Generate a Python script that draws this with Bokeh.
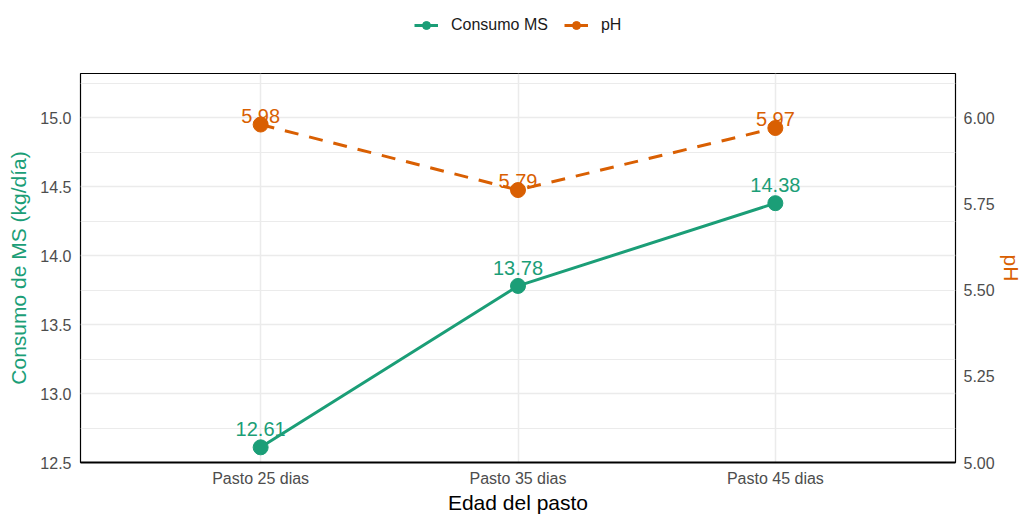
from bokeh.plotting import figure
from bokeh.layouts import column
from bokeh.models import (ColumnDataSource, FactorRange, Range1d, LinearAxis, FixedTicker,
                          Legend, LegendItem)
from bokeh.core.properties import value
from bokeh.embed import file_html
from bokeh.resources import INLINE

categories = ["Pasto 25 dias", "Pasto 35 dias", "Pasto 45 dias"]
consumo_ms = [12.61, 13.78, 14.38]
ph = [5.98, 5.79, 5.97]
left_ticks = [12.5, 13.0, 13.5, 14.0, 14.5, 15.0]
right_ticks = [5.00, 5.25, 5.50, 5.75, 6.00]
series_names = ["Consumo MS", "pH"]

GREEN = "#1B9E77"
ORANGE = "#D95F02"
FONT = "Liberation Sans"

src = ColumnDataSource(dict(
    x=categories, ms=consumo_ms, ph=ph,
    ms_lab=[f"{v:.2f}" for v in consumo_ms],
    ph_lab=[f"{v:.2f}" for v in ph],
))

y0, y1 = 12.5, 15.32
p = figure(frame_width=875, frame_height=389, output_backend="svg", toolbar_location=None,
           x_range=FactorRange(factors=categories, range_padding=0.2, range_padding_units="absolute"),
           y_range=Range1d(y0, y1),
           min_border_left=80, min_border_right=66, min_border_top=23, min_border_bottom=51)
p.extra_y_ranges = {"ph": Range1d(5 + (y0 - 12.5) / 2.5, 5 + (y1 - 12.5) / 2.5)}

p.background_fill_color = "white"
p.border_fill_color = "white"
p.outline_line_color = "black"
p.outline_line_width = 1.2

# grids
p.xgrid.grid_line_color = "#EBEBEB"
p.xgrid.grid_line_width = 1.5
p.ygrid.grid_line_color = "#EBEBEB"
p.ygrid.grid_line_width = 1.5
p.ygrid.minor_grid_line_color = "#EBEBEB"
p.ygrid.minor_grid_line_width = 1

yl = p.yaxis[0]
xb = p.xaxis[0]
yl.ticker = FixedTicker(ticks=left_ticks, minor_ticks=[12.75, 13.25, 13.75, 14.25, 14.75, 15.25])
yl.major_label_overrides = {t: f"{t:.1f}" for t in left_ticks}

# lines & points
l1 = p.line("x", "ms", source=src, line_color=GREEN, line_width=3)
s1 = p.scatter("x", "ms", source=src, size=15, fill_color=GREEN, line_color=GREEN)
l2 = p.line("x", "ph", source=src, line_color=ORANGE, line_width=3, line_dash="14 11", y_range_name="ph")
s2 = p.scatter("x", "ph", source=src, size=15, fill_color=ORANGE, line_color=ORANGE, y_range_name="ph")

p.text("x", "ms", text="ms_lab", source=src, text_color=GREEN, text_font_size="20px",
       text_font=value(FONT), text_align="center", text_baseline="bottom", y_offset=-11)
p.text("x", "ph", text="ph_lab", source=src, text_color=ORANGE, text_font_size="20px",
       text_font=value(FONT), text_align="center", text_baseline="bottom", y_offset=-2, y_range_name="ph")

ax2 = LinearAxis(y_range_name="ph", axis_label="pH", ticker=FixedTicker(ticks=right_ticks),
                 major_label_overrides={t: f"{t:.2f}" for t in right_ticks})
p.add_layout(ax2, "right")

# axes styling
for ax in [xb, yl, ax2]:
    ax.major_tick_line_color = None
    ax.minor_tick_line_color = None
    ax.major_tick_out = 0
    ax.major_tick_in = 0
    ax.minor_tick_out = 0
    ax.minor_tick_in = 0
    ax.major_label_text_color = "#4D4D4D"
    ax.major_label_text_font = FONT
    ax.major_label_text_font_size = "16px"
    ax.axis_label_text_font = FONT
    ax.axis_label_text_font_style = "normal"
    ax.axis_label_text_font_size = "21px"

xb.axis_label = "Edad del pasto"
xb.axis_label_text_color = "black"
xb.axis_line_color = "black"
xb.axis_line_width = 2
xb.major_label_standoff = 7
xb.axis_label_standoff = 1

yl.axis_label = "Consumo de MS (kg/día)"
yl.axis_label_text_color = GREEN
yl.axis_line_color = None
yl.major_label_standoff = 9
yl.axis_label_standoff = 7

ax2.axis_line_color = None
ax2.major_label_standoff = 8
ax2.axis_label_text_color = ORANGE
ax2.axis_label_standoff = 2

# legend strip above the panel
lg = figure(frame_width=1021, frame_height=50, output_backend="svg", toolbar_location=None,
            x_range=Range1d(0, 1), y_range=Range1d(0, 1), x_axis_type=None, y_axis_type=None,
            min_border=0)
lg.outline_line_color = None
lg.xgrid.visible = False
lg.ygrid.visible = False
hidden = ColumnDataSource(dict(x=[5], y=[5]))  # outside the strip's range: only the legend keys show
g1 = lg.line("x", "y", source=hidden, line_color=GREEN, line_width=3)
g1s = lg.scatter("x", "y", source=hidden, size=15, fill_color=GREEN, line_color=GREEN)
g2 = lg.line("x", "y", source=hidden, line_color=ORANGE, line_width=3)
g2s = lg.scatter("x", "y", source=hidden, size=15, fill_color=ORANGE, line_color=ORANGE)
legend = Legend(items=[LegendItem(label=series_names[0], renderers=[g1, g1s]),
                       LegendItem(label=series_names[1], renderers=[g2, g2s])],
                orientation="horizontal", location=(414, 15),
                label_text_font=FONT, label_text_font_size="16px", label_text_color="#1A1A1A",
                border_line_color=None, background_fill_alpha=0,
                glyph_width=24, label_standoff=13, spacing=16, margin=0, padding=6)
lg.add_layout(legend, "center")

layout = column(lg, p, spacing=0)
open("out.html", "w").write(file_html(layout, INLINE))
